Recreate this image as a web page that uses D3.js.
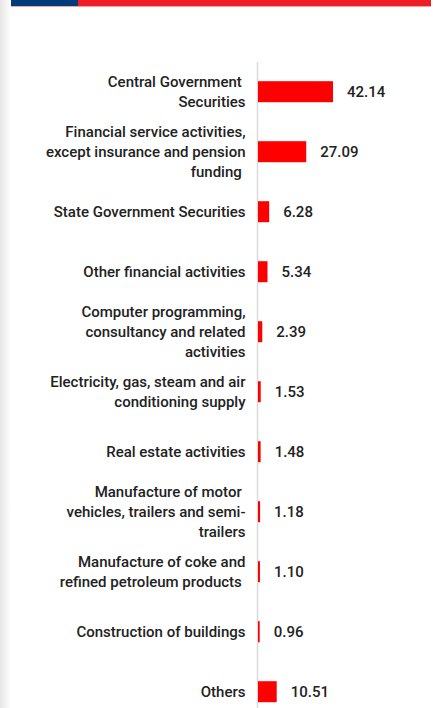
<!DOCTYPE html>
<html>
<head>
<meta charset="utf-8">
<script src="https://cdn.jsdelivr.net/npm/d3@7"></script>
<style>
  html, body { margin: 0; padding: 0; background: #fff; }
  svg { display: block; font-family: Roboto, "Noto Sans", sans-serif; }
</style>
</head>
<body>
<div id="chart"></div>
<script>
var categories = [
  ["Central Government ", "Securities"],
  ["Financial service activities,", "except insurance and pension", "funding "],
  ["State Government Securities"],
  ["Other financial activities"],
  ["Computer programming,", "consultancy and related", "activities"],
  ["Electricity, gas, steam and air", "conditioning supply"],
  ["Real estate activities"],
  ["Manufacture of motor ", "vehicles, trailers and semi-", "trailers"],
  ["Manufacture of coke and", "refined petroleum products "],
  ["Construction of buildings"],
  ["Others"]
];
var values = [42.14, 27.09, 6.28, 5.34, 2.39, 1.53, 1.48, 1.18, 1.10, 0.96, 10.51];
var valueLabels = ["42.14", "27.09", "6.28", "5.34", "2.39", "1.53", "1.48", "1.18", "1.10", "0.96", "10.51"];

var width = 433, height = 708;
var svg = d3.select("#chart").append("svg").attr("width", width).attr("height", height);

// left edge shadow
var defs = svg.append("defs");
var grad = defs.append("linearGradient").attr("id", "shade").attr("x1", "0").attr("x2", "1");
grad.append("stop").attr("offset", "0").attr("stop-color", "#e6e6e6");
grad.append("stop").attr("offset", "1").attr("stop-color", "#ffffff");
svg.append("rect").attr("x", 0).attr("y", 0).attr("width", 11).attr("height", height).attr("fill", "url(#shade)");

// header strip
svg.append("rect").attr("x", 11).attr("y", 0).attr("width", 420).attr("height", 6).attr("fill", "#ee1c25");
svg.append("rect").attr("x", 11).attr("y", 0).attr("width", 67).attr("height", 6).attr("fill", "#003a78");
svg.append("rect").attr("x", 11).attr("y", 6).attr("width", 420).attr("height", 1).attr("fill", "#f3a0a6");

var x0 = 258;
var x = d3.scaleLinear().domain([0, 42.14]).range([x0, 333]);
var y = d3.scaleBand().domain(d3.range(values.length)).range([61.7, 721.7]).paddingInner(0.65).paddingOuter(0.325);

// axis line
svg.append("line").attr("x1", x0 - 0.5).attr("x2", x0 - 0.5).attr("y1", 62).attr("y2", height)
  .attr("stroke", "#d9d9d9").attr("stroke-width", 1.5);

svg.selectAll("rect.bar").data(values).enter().append("rect")
  .attr("class", "bar")
  .attr("x", x0)
  .attr("y", function(d, i) { return y(i); })
  .attr("width", function(d) { return x(d) - x0; })
  .attr("height", y.bandwidth())
  .attr("fill", "#ff0000");

svg.selectAll("text.val").data(values).enter().append("text")
  .attr("class", "val")
  .attr("x", function(d) { return x(d) + 14; })
  .attr("y", function(d, i) { return y(i) + y.bandwidth() / 2; })
  .attr("dy", "0.35em")
  .attr("font-size", "15px")
  .attr("font-weight", 500)
  .attr("fill", "#222")
  .text(function(d, i) { return valueLabels[i]; });

var lineH = 20.3;
svg.selectAll("text.cat").data(categories).enter().append("text")
  .attr("class", "cat")
  .attr("text-anchor", "end")
  .attr("font-size", "15px")
  .attr("font-weight", 500)
  .attr("fill", "#222")
  .attr("xml:space", "preserve")
  .style("white-space", "pre")
  .each(function(lines, i) {
    var cy = y(i) + y.bandwidth() / 2;
    var top = cy - (lines.length - 1) * lineH / 2;
    var t = d3.select(this);
    lines.forEach(function(l, j) {
      t.append("tspan").attr("x", 245.5).attr("y", top + j * lineH).attr("dy", "0.35em").text(l);
    });
  });
</script>
</body>
</html>
